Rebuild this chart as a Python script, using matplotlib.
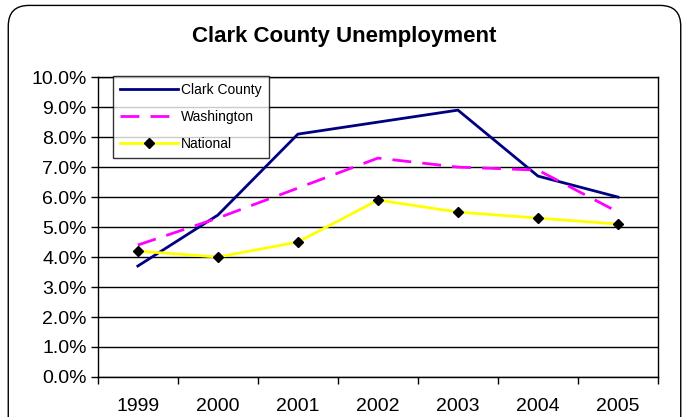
import matplotlib
matplotlib.use("Agg")
import matplotlib.pyplot as plt
from matplotlib.patches import FancyBboxPatch
from matplotlib.ticker import FuncFormatter, FixedLocator

plt.rcParams["font.family"] = ["Liberation Sans", "DejaVu Sans"]

# DATA

years = ["1999", "2000", "2001", "2002", "2003", "2004", "2005"]
clark = [3.7, 5.4, 8.1, 8.5, 8.9, 6.7, 6.0]
washington = [4.4, 5.3, 6.3, 7.3, 7.0, 6.9, 5.5]
national = [4.2, 4.0, 4.5, 5.9, 5.5, 5.3, 5.1]

# PLOT

fig = plt.figure(figsize=(6.89, 4.17), dpi=100)
ax = fig.add_axes([0.142, 0.096, 0.813, 0.719])

x = range(len(years))
ax.plot(x, clark, color="#000080", linewidth=2, label="Clark County", zorder=3)
ax.plot(x, washington, color="#ff00ff", linewidth=2, dashes=(6.8, 4),
        label="Washington", zorder=3)
ax.plot(x, national, color="#ffff00", linewidth=2, marker="D", markersize=5.5,
        markerfacecolor="black", markeredgecolor="black",
        label="National", zorder=4)

ax.set_xlim(-0.5, len(years) - 0.5)
ax.set_ylim(0, 10)
ax.yaxis.set_major_locator(FixedLocator([i for i in range(11)]))
ax.yaxis.set_major_formatter(FuncFormatter(lambda v, _: f"{v:.1f}%"))
ax.set_xticks(list(x))
ax.set_xticklabels(years)
ax.set_xticks([i - 0.5 for i in range(len(years) + 1)], minor=True)
ax.tick_params(axis="x", which="major", length=0, pad=15, labelsize=14)
ax.tick_params(axis="x", which="minor", length=5, width=1, direction="out")
ax.tick_params(axis="y", which="major", length=5, width=1, direction="out",
               labelsize=14, pad=3)

ax.grid(axis="y", color="black", linewidth=1)
ax.set_axisbelow(True)
for s in ax.spines.values():
    s.set_color("black")
    s.set_linewidth(1)

leg = ax.legend(loc="upper left", bbox_to_anchor=(0.027, 1.005), fontsize=10,
                frameon=True, fancybox=False, edgecolor="black",
                handlelength=4.2, borderaxespad=0, labelspacing=0.95,
                handletextpad=0.2, borderpad=0.5)
leg.get_frame().set_linewidth(1)

fig.text(0.5, 0.899, "Clark County Unemployment", ha="center", va="baseline",
         fontsize=16, fontweight="bold")

# outer rounded border
border = FancyBboxPatch((0.012, -0.05), 0.976, 1.037,
                        boxstyle="round,pad=0,rounding_size=0.03",
                        transform=fig.transFigure, facecolor="none",
                        edgecolor="black", linewidth=1, mutation_aspect=689 / 417)
fig.patches.append(border)

fig.savefig("out.png", dpi=100)
